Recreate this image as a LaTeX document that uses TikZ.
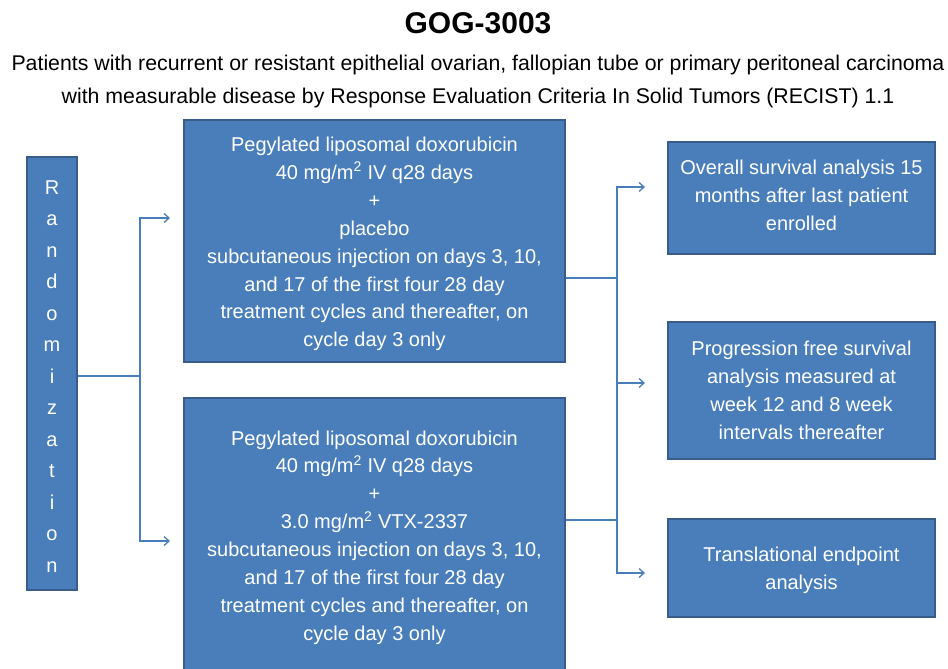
\documentclass[tikz,border=0pt]{standalone}
\usepackage{fontspec}
\setmainfont{Liberation Sans}
\usetikzlibrary{arrows.meta}
\definecolor{boxfill}{HTML}{4A7EBB}
\definecolor{boxline}{HTML}{385D8A}
\definecolor{connc}{HTML}{4A7EBB}
\begin{document}
\begin{tikzpicture}[x=1pt,y=-1pt,
 box/.style={draw=boxline,line width=2pt,fill=boxfill,inner sep=0pt},
 txt/.style={text=white,align=center,inner sep=0pt,font=\fontsize{20}{27.9}\selectfont},
 conn/.style={draw=connc,line width=1.3pt},
 arr/.style={conn,-{Straight Barb[length=5pt,width=9pt,line width=1.3pt]}}]
\useasboundingbox (0,0) rectangle (948,669);
\node[font=\bfseries\fontsize{30}{36}\selectfont] (title) at (478,23) {GOG-3003};
\node[font=\fontsize{21.3}{33}\selectfont,align=center] (sub) at (478,81.5) {Patients with recurrent or resistant epithelial ovarian, fallopian tube or primary peritoneal carcinoma\\with measurable disease by Response Evaluation Criteria In Solid Tumors (RECIST) 1.1};
\node[box,minimum width=50,minimum height=433] (rand) at (52,373.5) {};
\node[txt,font=\fontsize{20}{31.5}\selectfont] (randt) at ([yshift=-3pt]rand.center) {R\\a\\n\\d\\o\\m\\i\\z\\a\\t\\i\\o\\n};
\node[box,minimum width=381,minimum height=242] (top) at (374.5,241) {};
\node[txt] (topt) at ([yshift=-3pt]top.center) {Pegylated liposomal doxorubicin\\40 mg/m\textsuperscript{2} IV q28 days\\+\\placebo\\subcutaneous injection on days 3, 10,\\and 17 of the first four 28 day\\treatment cycles and thereafter, on\\cycle day 3 only};
\node[box,minimum width=381,minimum height=274] (bot) at (374.5,535) {};
\node[txt] (bott) at ([yshift=-2.5pt]bot.center) {Pegylated liposomal doxorubicin\\40 mg/m\textsuperscript{2} IV q28 days\\+\\3.0 mg/m\textsuperscript{2} VTX-2337\\subcutaneous injection on days 3, 10,\\and 17 of the first four 28 day\\treatment cycles and thereafter, on\\cycle day 3 only};
\node[box,minimum width=267,minimum height=112] (os) at (801.5,198) {};
\node[txt] (ost) at ([yshift=3pt]os.center) {Overall survival analysis 15\\months after last patient\\enrolled};
\node[box,minimum width=267,minimum height=137] (pfs) at (801.5,390.5) {};
\node[txt] (pfst) at (pfs.center) {Progression free survival\\analysis measured at\\week 12 and 8 week\\intervals thereafter};
\node[box,minimum width=267,minimum height=98] (tr) at (801.5,568) {};
\node[txt] (trt) at ([yshift=-2pt]tr.center) {Translational endpoint\\analysis};
\coordinate (jl) at (140,376);
\coordinate (ta) at (170,218);
\coordinate (ba) at (170,541);
\draw[conn] (rand.east |- jl) -- (jl);
\draw[arr] (jl) |- (ta);
\draw[arr] (jl) |- (ba);
\coordinate (jt) at (617,278);
\coordinate (jb) at (617,520);
\coordinate (r1) at (645,187);
\coordinate (r2) at (645,383);
\coordinate (r3) at (645,573);
\draw[conn] (top.east |- jt) -- (jt);
\draw[conn] (bot.east |- jb) -- (jb);
\draw[conn] (jt) -- (jb);
\draw[arr] (jt) |- (r1);
\draw[arr] (jt) |- (r2);
\draw[arr] (jb) |- (r3);
\end{tikzpicture}
\end{document}
